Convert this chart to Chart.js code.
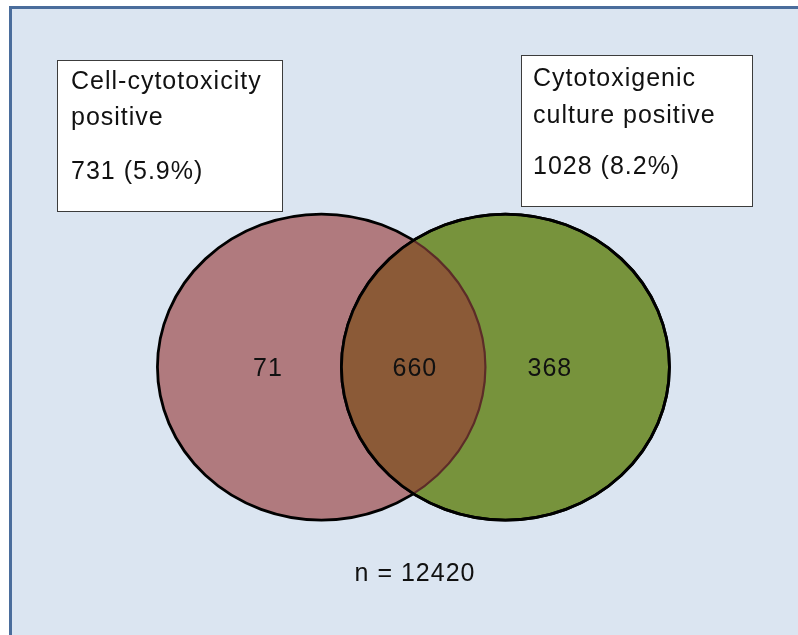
<!DOCTYPE html>
<html>
<head>
<meta charset="utf-8">
<script src="https://cdn.jsdelivr.net/npm/chart.js@4"></script>
<style>
  html, body { margin: 0; padding: 0; background: #ffffff; }
  #frame {
    position: absolute; left: 9px; top: 6px; width: 800px; height: 626px;
    background: #dbe5f1;
    border-left: 3px solid #4a6d9c; border-top: 3px solid #4a6d9c;
    border-bottom: 1px solid #c3d1e4;
  }
  #vennChart { position: absolute; left: 0; top: 0; }
</style>
</head>
<body>
<div id="frame"></div>
<canvas id="vennChart" width="798" height="635"></canvas>
<script>
// Venn data
const setLabelLines = [['Cell-cytotoxicity', 'positive'], ['Cytotoxigenic', 'culture positive']];
const setTotals = [731, 1028];
const setPercents = [5.9, 8.2];
const regionNames = ['Cell-cytotoxicity only', 'Both', 'Cytotoxigenic culture only'];
const regionCounts = [71, 660, 368];
const sampleSize = 12420;

const FONT = '25px "Liberation Sans", Arial, sans-serif';

// boxes for the set labels (pixels)
const labelBoxes = [
    { x: 57, y: 60, w: 225, h: 151, tx: 71, lines: [89, 125, 179] },
    { x: 521, y: 55, w: 231, h: 151, tx: 533, lines: [86, 123, 174] }
];

function ellipsePath(ctx, cx, cy, rx, ry) {
    ctx.beginPath();
    ctx.ellipse(cx, cy, rx, ry, 0, 0, Math.PI * 2);
}

function drawText(ctx, str, x, y, align) {
    ctx.save();
    ctx.font = FONT;
    ctx.fillStyle = '#111111';
    ctx.textAlign = align || 'left';
    if ('letterSpacing' in ctx) ctx.letterSpacing = '1px';
    ctx.fillText(str, x, y);
    ctx.restore();
}

const vennPlugin = {
    id: 'venn',
    afterDatasetsDraw(chart) {
        const ctx = chart.ctx;
        const xs = chart.scales.x, ys = chart.scales.y;
        const circles = [0, 1].map(i => {
            const ds = chart.data.datasets[i];
            const el = chart.getDatasetMeta(i).data[0];
            const d = ds.data[0];
            return {
                cx: el.x, cy: el.y,
                rx: xs.getPixelForValue(d.x + ds.setRadius) - el.x,
                ry: el.y - ys.getPixelForValue(d.y + ds.setRadius),
                fill: ds.fillColor
            };
        });
        const a = circles[0], b = circles[1];
        ctx.save();
        ctx.lineWidth = 2.8;
        ctx.strokeStyle = '#000000';
        ellipsePath(ctx, a.cx, a.cy, a.rx, a.ry);
        ctx.fillStyle = a.fill; ctx.fill(); ctx.stroke();
        ellipsePath(ctx, b.cx, b.cy, b.rx, b.ry);
        ctx.fillStyle = b.fill; ctx.fill(); ctx.stroke();
        // overlap
        ctx.save();
        ellipsePath(ctx, b.cx, b.cy, b.rx, b.ry);
        ctx.clip();
        ellipsePath(ctx, a.cx, a.cy, a.rx, a.ry);
        ctx.fillStyle = '#8b5a37'; ctx.fill();
        ctx.strokeStyle = '#5c2c28'; ctx.lineWidth = 2.2; ctx.stroke();
        ctx.restore();
        ellipsePath(ctx, b.cx, b.cy, b.rx, b.ry);
        ctx.strokeStyle = '#000000'; ctx.lineWidth = 2.8; ctx.stroke();
        ctx.restore();

        // region counts
        chart.getDatasetMeta(2).data.forEach((el, i) => {
            drawText(ctx, String(regionCounts[i]), el.x, el.y + 9, 'center');
        });

        // set label boxes
        labelBoxes.forEach((bx, i) => {
            ctx.save();
            ctx.fillStyle = '#ffffff';
            ctx.fillRect(bx.x, bx.y, bx.w, bx.h);
            ctx.strokeStyle = '#3c3c3c';
            ctx.lineWidth = 1;
            ctx.strokeRect(bx.x + 0.5, bx.y + 0.5, bx.w, bx.h);
            ctx.restore();
            drawText(ctx, setLabelLines[i][0], bx.tx, bx.lines[0]);
            drawText(ctx, setLabelLines[i][1], bx.tx, bx.lines[1]);
            drawText(ctx, setTotals[i] + ' (' + setPercents[i].toFixed(1) + '%)', bx.tx, bx.lines[2]);
        });

        drawText(ctx, 'n = ' + sampleSize, 415, 581, 'center');
    }
};

const vennCtx = document.getElementById('vennChart').getContext('2d');
new Chart(vennCtx, {
    type: 'bubble',
    data: {
        datasets: [{
            label: setLabelLines[0].join(' '),
            data: [{ x: 0, y: 0, r: 0 }],
            setRadius: 1,
            fillColor: '#b07a7e',
            backgroundColor: 'rgba(0,0,0,0)',
            borderWidth: 0
        }, {
            label: setLabelLines[1].join(' '),
            data: [{ x: 1.122, y: 0, r: 0 }],
            setRadius: 1,
            fillColor: '#77933c',
            backgroundColor: 'rgba(0,0,0,0)',
            borderWidth: 0
        }, {
            label: 'Regions',
            data: regionNames.map((n, i) => ({ x: [-0.326, 0.57, 1.393][i], y: 0, r: 0 })),
            backgroundColor: 'rgba(0,0,0,0)',
            borderWidth: 0
        }]
    },
    options: {
        responsive: false,
        animation: false,
        layout: { padding: 0 },
        plugins: {
            legend: { display: false },
            tooltip: { enabled: false }
        },
        scales: {
            x: { type: 'linear', display: false, min: -1.96, max: 2.906 },
            y: { type: 'linear', display: false, min: -1.751, max: 2.399 }
        }
    },
    plugins: [vennPlugin]
});
</script>
</body>
</html>
